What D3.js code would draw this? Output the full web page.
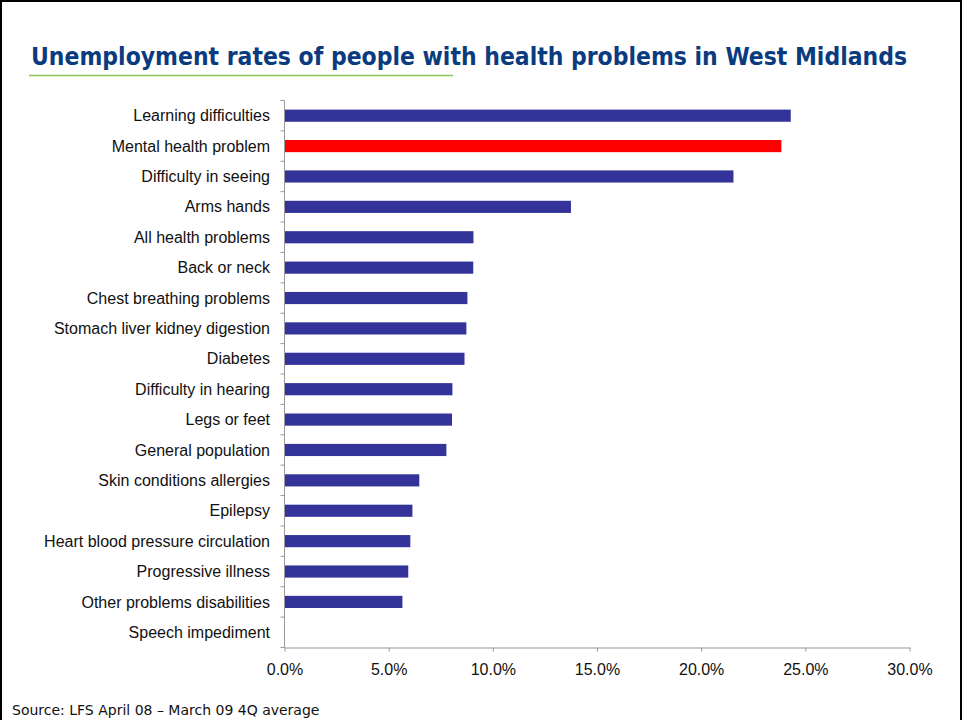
<!DOCTYPE html>
<html>
<head>
<meta charset="utf-8">
<script src="https://cdn.jsdelivr.net/npm/d3@7"></script>
<style>
  body { margin: 0; background: #fff; }
  svg { display: block; }
  .tick text { font-family: "Liberation Sans", Arial, sans-serif; font-size: 16px; fill: #111; }
</style>
</head>
<body>
<svg class="bar-chart" width="963" height="720"></svg>
<script>
const categories = [
    'Learning difficulties', 'Mental health problem', 'Difficulty in seeing', 'Arms hands',
    'All health problems', 'Back or neck', 'Chest breathing problems',
    'Stomach liver kidney digestion', 'Diabetes', 'Difficulty in hearing', 'Legs or feet',
    'General population', 'Skin conditions allergies', 'Epilepsy',
    'Heart blood pressure circulation', 'Progressive illness ', 'Other problems disabilities',
    'Speech impediment'
];
const rates = [24.3, 23.85, 21.55, 13.75, 9.07, 9.06, 8.78, 8.73, 8.64, 8.06, 8.04, 7.77, 6.47, 6.14, 6.04, 5.94, 5.66, 0];
const highlighted = ['Mental health problem'];
const xTicks = [0, 5, 10, 15, 20, 25, 30];

const title = 'Unemployment rates of people with health problems in West Midlands';
const source = 'Source: LFS April 08 \u2013 March 09 4Q average';

const svg = d3.select('.bar-chart');

const margin = { left: 284.5, top: 100.5, right: 53.5, bottom: 72.5 };
const width = +svg.attr('width') - margin.left - margin.right;
const height = +svg.attr('height') - margin.top - margin.bottom;

// frame (no bottom edge, the slide is cut off there)
svg.append('path')
    .attr('d', 'M1,720 V1 H961 V720')
    .attr('fill', 'none')
    .attr('stroke', '#000')
    .attr('stroke-width', 2);

svg.append('text')
    .attr('x', 31)
    .attr('y', 65)
    .attr('font-family', '"DejaVu Sans Condensed", Tahoma, "DejaVu Sans", sans-serif')
    .attr('font-weight', 'bold')
    .attr('font-size', 24)
    .attr('fill', '#0b3b7f')
    .attr('textLength', 876)
    .attr('lengthAdjust', 'spacingAndGlyphs')
    .text(title);

svg.append('line')
    .attr('x1', 29).attr('x2', 453)
    .attr('y1', 75.5).attr('y2', 75.5)
    .attr('stroke', '#8cc65a')
    .attr('stroke-width', 1.5);

const x = d3.scaleLinear()
    .domain([0, 30])
    .range([0, width]);

const y = d3.scaleBand()
    .domain(categories)
    .range([0, height])
    .paddingInner(0.6)
    .paddingOuter(0.3);

const g = svg.append('g')
    .attr('transform', `translate(${margin.left} ${margin.top})`);

g.selectAll('rect')
    .data(categories)
    .enter()
    .append('rect')
    .attr('x', 0)
    .attr('y', d => y(d))
    .attr('width', (d, i) => x(rates[i]))
    .attr('height', y.bandwidth())
    .attr('fill', d => highlighted.includes(d) ? '#ff0000' : '#333399');

const xAxis = d3.axisBottom(x)
    .tickValues(xTicks)
    .tickFormat(d => d.toFixed(1) + '%')
    .tickSizeInner(4)
    .tickSizeOuter(0)
    .tickPadding(12);

const xAxisG = g.append('g')
    .attr('transform', `translate(0 ${height})`)
    .call(xAxis);
xAxisG.selectAll('.domain, line').attr('stroke', '#999');

// category ticks sit on band boundaries, labels at band centres
const yAxisG = g.append('g');
yAxisG.append('line')
    .attr('x1', 0).attr('x2', 0)
    .attr('y1', 0).attr('y2', height)
    .attr('stroke', '#999');

const step = y.step();
yAxisG.selectAll('.ytick')
    .data(d3.range(categories.length + 1))
    .enter()
    .append('line')
    .attr('x1', -4).attr('x2', 0)
    .attr('y1', i => i * step)
    .attr('y2', i => i * step)
    .attr('stroke', '#999');

yAxisG.selectAll('.ylabel')
    .data(categories)
    .enter()
    .append('text')
    .attr('x', -14.5)
    .attr('y', d => y(d) + y.bandwidth() / 2)
    .attr('dy', '0.35em')
    .attr('text-anchor', 'end')
    .attr('font-family', '"Liberation Sans", Arial, sans-serif')
    .attr('font-size', 16)
    .attr('fill', '#111')
    .text(d => d);

svg.append('text')
    .attr('x', 12)
    .attr('y', 715)
    .attr('font-family', 'Tahoma, "DejaVu Sans", sans-serif')
    .attr('font-size', 14)
    .attr('fill', '#111')
    .text(source);
</script>
</body>
</html>
